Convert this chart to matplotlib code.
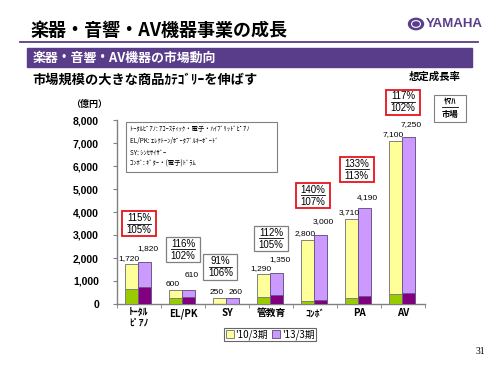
import matplotlib
matplotlib.use("Agg")
import matplotlib.pyplot as plt
from matplotlib.patches import Rectangle, Circle
from matplotlib.lines import Line2D
import numpy as np

plt.rcParams['font.family'] = ['Noto Sans CJK JP', 'DejaVu Sans']

# --- data -------------------------------------------------------------
categories = ['ﾄｰﾀﾙ\nﾋﾟｱﾉ', 'EL/PK', 'SY', '管教育', 'ｺﾝﾎﾞ', 'PA', 'AV']
market_2010 = [1720, 600, 250, 1290, 2800, 3710, 7100]
market_2013 = [1820, 610, 260, 1350, 3000, 4190, 7250]
yamaha_2010 = [650, 260, 15, 300, 130, 260, 440]
yamaha_2013 = [740, 320, 20, 370, 180, 350, 500]
growth_yamaha = ['115%', '116%', '91%', '112%', '140%', '133%', '117%']
growth_market = ['105%', '102%', '106%', '105%', '107%', '113%', '102%']
highlight = [True, False, False, False, True, True, True]
series_names = ["'10/3期", "'13/3期"]
yticks = [0, 1000, 2000, 3000, 4000, 5000, 6000, 7000, 8000]
notes = ['ﾄｰﾀﾙﾋﾟｱﾉ: ｱｺｰｽﾃｨｯｸ・電子・ﾊｲﾌﾞﾘｯﾄﾞﾋﾟｱﾉ',
         'EL/PK: ｴﾚｸﾄｰﾝ/ﾎﾟｰﾀﾌﾞﾙｷｰﾎﾞｰﾄﾞ',
         'SY: ｼﾝｾｻｲｻﾞｰ',
         'ｺﾝﾎﾞ: ｷﾞﾀｰ・(電子)ﾄﾞﾗﾑ']

# layout helpers (label placement, not data)
box_y = [3480, 2350, 1610, 2830, 4700, 5830, 8780]
box_dx = [0.0, 0.0, -0.15, 0.0, -0.05, -0.05, 0.0]
lift_2013 = [14, 14, 6, 13, 13, 10, 13]

W, H = 500, 375
fig = plt.figure(figsize=(5, 3.75), dpi=100)


def fx(x):
    return x / W


def fy(y):
    return 1 - y / H


PURPLE = '#5A3D8A'

# header
fig.text(fx(30), fy(31), '楽器・音響・AV機器事業の成長', fontsize=13,
         fontweight='bold', va='center', ha='left')
fig.add_artist(Line2D([fx(20), fx(478)], [fy(42), fy(42)], color=PURPLE, lw=1.3))
fig.add_artist(Rectangle((fx(27), fy(67)), fx(445), 19 / H, color=PURPLE))
fig.text(fx(33), fy(57.5), '楽器・音響・AV機器の市場動向', fontsize=9.3,
         fontweight='bold', color='white', va='center', ha='left')

# logo
fig.add_artist(Circle((fx(416), fy(24)), 7.5 / W, color=PURPLE,
                      transform=fig.transFigure))
fig.add_artist(Circle((fx(416), fy(24)), 4.5 / W, facecolor='none',
                      edgecolor='white', lw=0.8, transform=fig.transFigure))
fig.text(fx(426), fy(24), 'YAMAHA', fontsize=9.5, fontweight='bold',
         color=PURPLE, family='Liberation Sans', va='center', ha='left')

fig.text(fx(32), fy(80), '市場規模の大きな商品ｶﾃｺﾞﾘｰを伸ばす', fontsize=9.5,
         fontweight='bold', va='center', ha='left')
fig.text(fx(435), fy(77), '想定成長率', fontsize=7.5, fontweight='bold',
         va='center', ha='center')
fig.text(fx(89), fy(104), '（億円）', fontsize=6.5, fontweight='bold',
         va='center', ha='center')

# Yamaha / market key box
fig.add_artist(Rectangle((fx(434), fy(122)), 32 / W, 27 / H, facecolor='white',
                         edgecolor='#808080', lw=0.8))
fig.text(fx(450), fy(102), 'ﾔﾏﾊ', fontsize=6, fontweight='bold',
         va='center', ha='center')
fig.add_artist(Line2D([fx(442), fx(458)], [fy(107), fy(107)], color='black', lw=0.6))
fig.text(fx(450), fy(114), '市場', fontsize=6, fontweight='bold',
         va='center', ha='center')

fig.text(fx(480), fy(351), '31', fontsize=7, family='Liberation Serif',
         va='center', ha='center')

# --- chart ------------------------------------------------------------
ax = fig.add_axes([fx(117), fy(304), 308 / W, 184 / H])
x = np.arange(len(categories))
bw = 0.3
xa = x - bw / 2 - 0.02
xb = x + bw / 2 - 0.02

b1 = ax.bar(xa, market_2010, bw, color='#FFFF99', edgecolor='#808080', lw=0.7,
            label=series_names[0], zorder=2)
b2 = ax.bar(xb, market_2013, bw, color='#CC99FF', edgecolor='#6E5A8A', lw=0.7,
            label=series_names[1], zorder=2)
ax.bar(xa, yamaha_2010, bw, color='#99CC00', edgecolor='#808080', lw=0.7, zorder=3)
ax.bar(xb, yamaha_2013, bw, color='#800080', edgecolor='#6E5A8A', lw=0.7, zorder=3)

for i in range(len(categories)):
    ax.annotate(f'{market_2010[i]:,}', (xa[i], market_2010[i]), xytext=(-2, 4.3),
                textcoords='offset points', ha='center', va='center',
                fontsize=6, family='Liberation Sans')
    ax.annotate(f'{market_2013[i]:,}', (xb[i], market_2013[i]),
                xytext=(2, lift_2013[i] / 1.389), textcoords='offset points',
                ha='center', va='center', fontsize=6, family='Liberation Sans')

    # growth rate box
    cx = i + box_dx[i]
    cy = box_y[i]
    ec = '#E8141B' if highlight[i] else '#808080'
    lw = 1.3 if highlight[i] else 0.9
    ax.add_patch(Rectangle((cx - 0.385, cy - 545), 0.77, 1090, facecolor='white',
                           edgecolor=ec, lw=lw, clip_on=False, zorder=4))
    ax.text(cx, cy + 250, growth_yamaha[i], ha='center', va='center', fontsize=7,
            family='Liberation Sans', zorder=5, clip_on=False)
    ax.plot([cx - 0.27, cx + 0.27], [cy + 20, cy + 20], color='black', lw=0.6,
            clip_on=False, zorder=5)
    ax.text(cx, cy - 250, growth_market[i], ha='center', va='center', fontsize=7,
            family='Liberation Sans', zorder=5, clip_on=False)

# category notes box
ax.add_patch(Rectangle((-0.3, 5750), 3.43, 2170, facecolor='white',
                       edgecolor='#808080', lw=0.8, zorder=4))
for k, line in enumerate(notes):
    ax.text(-0.2, 7600 - k * 500, line, fontsize=4.6, va='center', ha='left',
            zorder=5)

ax.set_xlim(-0.5, len(categories) - 0.5)
ax.set_ylim(0, 8000)
ax.set_yticks(yticks)
ax.set_yticklabels([f'{v:,}' for v in yticks], fontsize=7.5, fontweight='bold',
                   family='Liberation Sans')
ax.set_xticks(x)
ax.set_xticklabels(categories, fontsize=7, fontweight='bold', linespacing=0.95)
ax.set_xticks(np.arange(-0.5, len(categories), 1), minor=True)
ax.tick_params(axis='x', which='major', length=0, pad=3)
ax.tick_params(axis='x', which='minor', length=3, color='#808080', direction='out')
ax.tick_params(axis='y', length=3, color='#808080', direction='out', pad=10)
for s in ['top', 'right']:
    ax.spines[s].set_visible(False)
for s in ['left', 'bottom']:
    ax.spines[s].set_color('#808080')
    ax.spines[s].set_linewidth(1.0)

leg = ax.legend(handles=[b1, b2], loc='upper center', bbox_to_anchor=(0.497, -0.13),
                ncol=2, fontsize=7, frameon=True, fancybox=False,
                edgecolor='#404040', handlelength=0.8, handleheight=0.8,
                handletextpad=0.2, columnspacing=0.4, borderpad=0.15,
                borderaxespad=0)
leg.get_frame().set_linewidth(0.8)

fig.savefig('out.png', dpi=100)
